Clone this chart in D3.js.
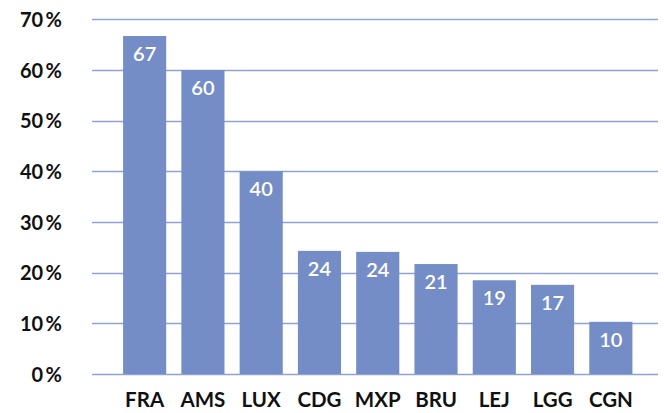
<!DOCTYPE html>
<html><head><meta charset="utf-8">
<script src="https://cdn.jsdelivr.net/npm/d3@7"></script>
<style>body{margin:0;background:#fff}svg{display:block}</style>
</head><body>
<script>
const categories = ["FRA","AMS","LUX","CDG","MXP","BRU","LEJ","LGG","CGN"];
const values = [66.7, 60.0, 40.0, 24.3, 24.1, 21.7, 18.5, 17.6, 10.3];
const labels = ["67","60","40","24","24","21","19","17","10"];
const yTicks = [0,10,20,30,40,50,60,70];

const W = 664, H = 413;
const svg = d3.select("body").append("svg").attr("width", W).attr("height", H);
const font = "Lato, 'Open Sans', sans-serif";

const y = d3.scaleLinear().domain([0,70]).range([374, 19.3]);
const x = d3.scaleBand().domain(categories).range([115.5, 640]).paddingInner(0.26).paddingOuter(0.13);

// gridlines
svg.append("g").selectAll("line").data(yTicks).join("line")
  .attr("x1", 92).attr("x2", 658)
  .attr("y1", d => Math.round(y(d)) + 0.5).attr("y2", d => Math.round(y(d)) + 0.5)
  .attr("stroke", "#8fa2d6").attr("stroke-width", 1.3);

// y tick labels
const yAxis = d3.axisLeft(y).tickValues(yTicks).tickSize(0).tickFormat(d => d + "\u2009%");
const gy = svg.append("g").attr("transform", "translate(62,0)").call(yAxis);
gy.select(".domain").remove();
gy.selectAll("text").attr("x", 0).attr("dy", "0.36em")
  .style("font-family", font).style("font-size", "20px").style("font-weight", "700").attr("fill", "#111");

// bars
svg.append("g").selectAll("rect").data(values).join("rect")
  .attr("x", (d,i) => x(categories[i])).attr("width", x.bandwidth())
  .attr("y", d => y(d)).attr("height", d => y(0) - y(d))
  .attr("fill", "#748dc6");

// bar labels
svg.append("g").selectAll("text").data(values).join("text")
  .attr("x", (d,i) => x(categories[i]) + x.bandwidth()/2)
  .attr("y", d => y(d) + 25)
  .attr("text-anchor", "middle")
  .style("font-family", font).style("font-size", "20px").style("font-weight", "600")
  .attr("fill", "#fff")
  .text((d,i) => labels[i]);

// x axis labels
const xAxis = d3.axisBottom(x).tickSize(0);
const gx = svg.append("g").attr("transform", "translate(0,374)").call(xAxis);
gx.select(".domain").remove();
gx.selectAll("text").attr("y", 33).attr("dy", 0)
  .style("font-family", font).style("font-size", "20.5px").style("font-weight", "700").attr("fill", "#111");
</script>
</body></html>
